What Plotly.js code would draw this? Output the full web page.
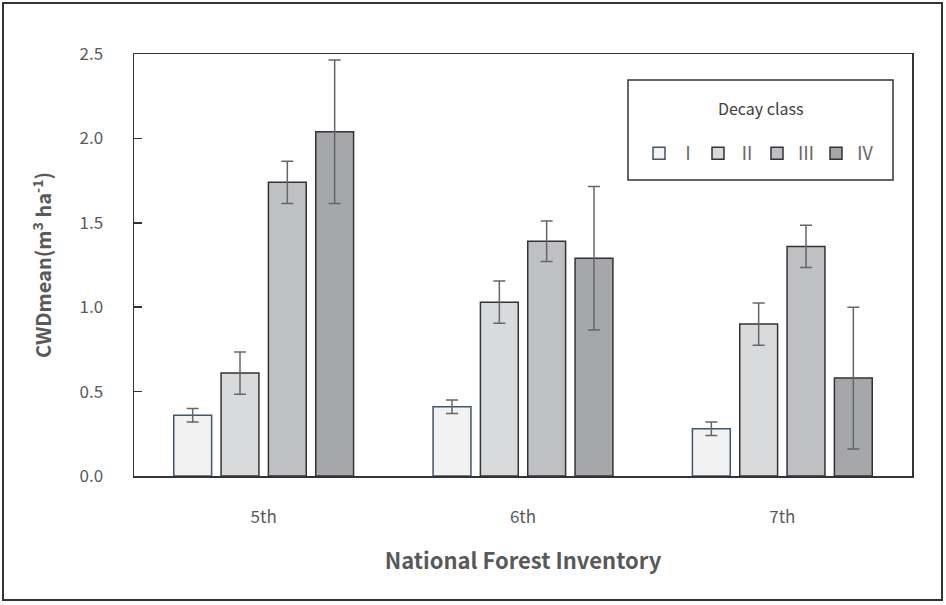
<!DOCTYPE html>
<html>
<head>
<meta charset="utf-8">
<script src="https://cdn.plot.ly/plotly-3.0.1.min.js"></script>
<style>
  html, body { margin: 0; padding: 0; background: #ffffff; overflow: hidden; }
  #chart { width: 946px; height: 605px; }
</style>
</head>
<body>
<div id="chart"></div>
<script>
// ---- data ----
const inventories = ["5th", "6th", "7th"];
const decayClasses = ["Ⅰ", "Ⅱ", "Ⅲ", "Ⅳ"];
const classI   = [0.36, 0.41, 0.28];
const classII  = [0.61, 1.03, 0.90];
const classIII = [1.74, 1.39, 1.36];
const classIV  = [2.04, 1.29, 0.58];
const errI   = [0.04, 0.04, 0.04];
const errII  = [0.125, 0.125, 0.125];
const errIII = [0.125, 0.12, 0.125];
const errIV  = [0.425, 0.425, 0.42];
const yTickVals = [0, 0.5, 1.0, 1.5, 2.0, 2.5];
const yTickText = ["0.0", "0.5", "1.0", "1.5", "2.0", "2.5"];
const legendTitle = "Decay class";

// ---- styles ----
const fills = ["#f2f2f2", "#d9dadc", "#bfc0c3", "#a6a7aa"];
const outlines = ["#44546a", "#333333", "#333333", "#333333"];
const series = [classI, classII, classIII, classIV];
const errs = [errI, errII, errIII, errIV];

const W = 946, H = 605;
const M = { l: 134, r: 34, t: 54, b: 129, autoexpand: false };
const pw = W - M.l - M.r, ph = H - M.t - M.b;
const px = x => (x - M.l) / pw;
const py = y => (H - M.b - y) / ph;

const traces = series.map((vals, i) => ({
  type: "bar",
  name: decayClasses[i],
  x: inventories,
  y: vals,
  marker: { color: fills[i], line: { color: outlines[i], width: 1.5 } },
  error_y: { type: "data", array: errs[i], visible: true, color: "#666666", thickness: 1.5, width: 6 },
  hoverinfo: "skip"
}));

const textGray = "#595959";
const font = "'Noto Sans CJK KR', 'Noto Sans', sans-serif";

const layout = {
  width: W, height: H,
  margin: M,
  paper_bgcolor: "#ffffff",
  plot_bgcolor: "#ffffff",
  font: { family: font, color: textGray, size: 17 },
  barmode: "group",
  bargap: 0.27,
  bargroupgap: 0.2,
  showlegend: true,
  xaxis: {
    type: "category",
    range: [-0.5, 2.5],
    showgrid: false, zeroline: false,
    showline: true, linecolor: "#333333", linewidth: 1.5, mirror: true,
    ticks: "",
    ticklabelstandoff: 25,
    tickfont: { size: 17, color: textGray },
    title: { text: "National Forest Inventory", font: { size: 22, color: textGray, weight: "bold" }, standoff: 26 }
  },
  yaxis: {
    range: [0, 2.5],
    tickvals: yTickVals, ticktext: yTickText,
    showgrid: false, zeroline: false,
    showline: true, linecolor: "#333333", linewidth: 1.5, mirror: true,
    ticks: "inside", ticklen: 8, tickwidth: 1.5, tickcolor: "#333333",
    ticklabelstandoff: 26,
    tickfont: { size: 17, color: textGray },
    title: { text: "CWDmean(m<sup>3</sup> ha<sup>-1</sup>)", font: { size: 20, color: textGray, weight: "bold" }, standoff: 22 }
  },
  legend: {
    orientation: "h",
    x: px(639), xanchor: "left",
    y: py(135), yanchor: "top",
    bgcolor: "rgba(0,0,0,0)",
    borderwidth: 0,
    entrywidth: 14,
    itemwidth: 30,
    font: { size: 18, color: "#6a6a6a", family: "'Noto Sans CJK KR', serif" }
  },
  annotations: [
    { xref: "paper", yref: "paper", x: px(760), y: py(108), text: legendTitle, showarrow: false,
      xanchor: "center", yanchor: "middle", font: { size: 16, color: "#404040", family: font } }
  ],
  shapes: [
    { type: "rect", xref: "paper", yref: "paper", x0: px(628), x1: px(893), y0: py(80), y1: py(180),
      line: { color: "#333333", width: 1.5 }, fillcolor: "rgba(0,0,0,0)", layer: "below" },
    { type: "rect", xref: "paper", yref: "paper", x0: px(3), x1: px(942), y0: py(3), y1: py(600),
      line: { color: "#333333", width: 2 }, fillcolor: "rgba(0,0,0,0)", layer: "below" }
  ]
};

Plotly.newPlot("chart", traces, layout, { displayModeBar: false, staticPlot: true });
</script>
</body>
</html>
